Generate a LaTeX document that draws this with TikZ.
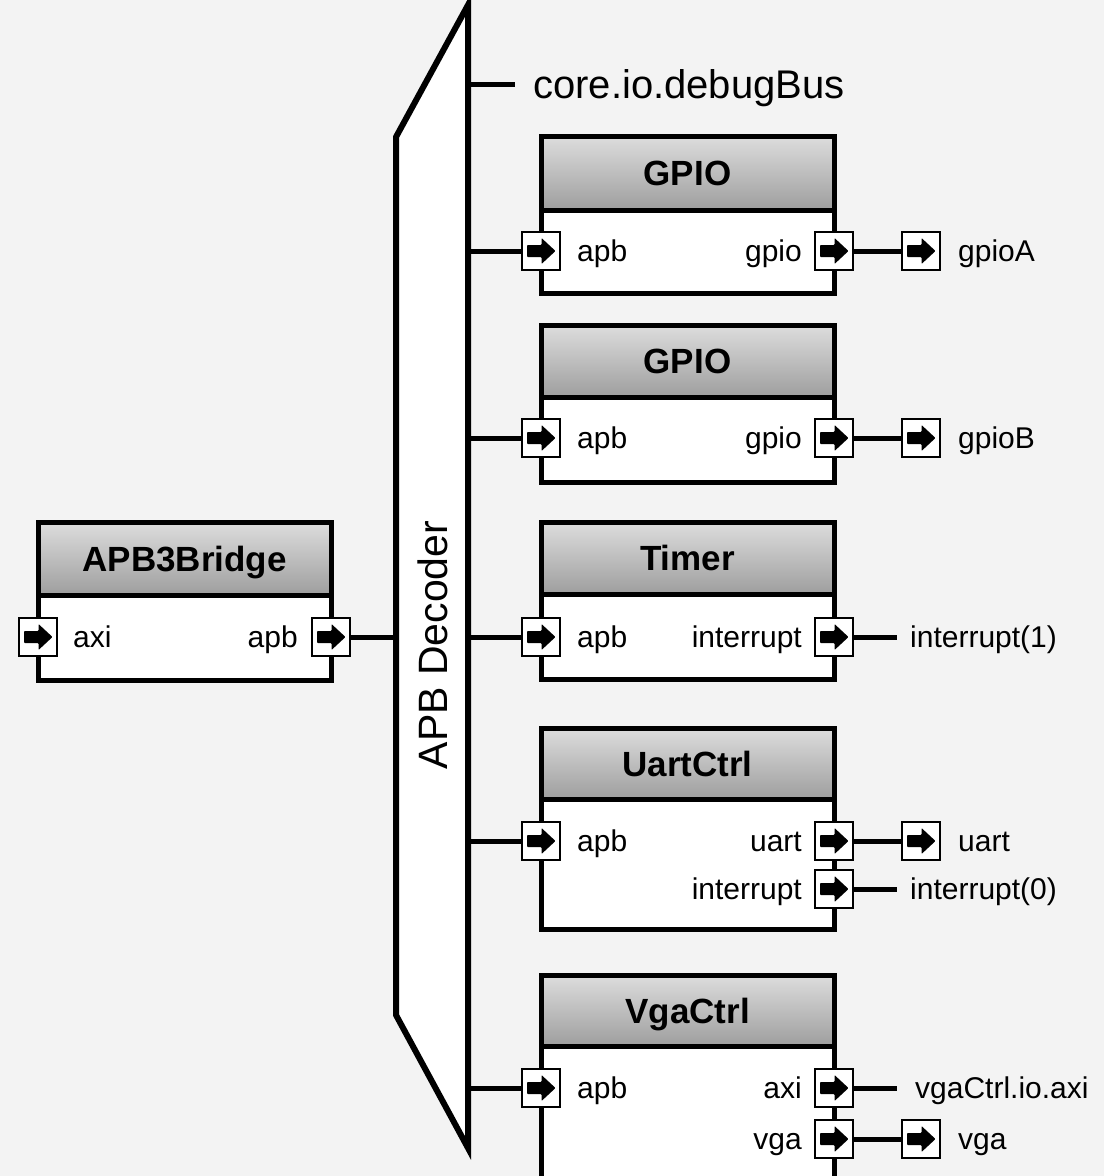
\documentclass[tikz,border=0pt]{standalone}
\usepackage{fontspec}
\setmainfont{Liberation Sans}
\usetikzlibrary{calc}
\definecolor{bgcol}{HTML}{F3F3F3}
\definecolor{hdtop}{HTML}{DDDDDD}
\definecolor{hdbot}{HTML}{9E9E9E}
\tikzset{
  bodybox/.style={draw=black, line width=5pt, fill=white, inner sep=0pt, outer sep=0pt, minimum width=293pt, anchor=north west},
  hdrbox/.style={draw=black, line width=5pt, top color=hdtop, bottom color=hdbot, inner sep=0pt, outer sep=0pt, minimum width=293pt, anchor=north west},
  ttl/.style={font=\fontsize{35}{42}\selectfont\bfseries, inner sep=0pt, anchor=base, yshift=-12.5pt},
  plbl/.style={font=\fontsize{30}{36}\selectfont, inner sep=0pt, yshift=-10.7pt},
  plw/.style={plbl, anchor=base west},
  ple/.style={plbl, anchor=base east},
  port/.style={draw=black, line width=2.7pt, fill=white, minimum size=38pt, inner sep=0pt, outer sep=0pt,
    path picture={\fill[black, draw=none, rounded corners=0.8pt] ([xshift=-14pt,yshift=-6pt]path picture bounding box.center)
      -- ++(14.5pt,0pt) -- ++(0pt,-7pt) -- ++(14pt,13pt) -- ++(-14pt,13pt) -- ++(0pt,-7pt) -- ++(-14.5pt,0pt) -- cycle;}},
  wire/.style={draw=black, line width=5pt},
}
\newcommand\cmpbox[6]{%
  \node[bodybox, minimum height={(#5-#3)*1pt}] (#1) at (#2,#3) {};
  \node[hdrbox, minimum height={(#4-#3)*1pt}] (#1h) at (#2,#3) {};
  \node[ttl] (#1t) at (#1h.center) {#6};
}
\begin{document}
\begin{tikzpicture}[x=1pt,y=-1pt]
\fill[bgcol] (0,0) rectangle (1104,1176);
\useasboundingbox (0,0) rectangle (1104,1176);
\clip (0,0) rectangle (1104,1176);

% APB decoder
\coordinate (dtop) at (468,5);
\coordinate (dbot) at (468,1148);
\coordinate (dbl) at (396,1015);
\coordinate (dtl) at (396,137);
\draw[line width=6pt, fill=white, line join=miter] (dtop) -- (dbot) -- (dbl) -- (dtl) -- cycle;
\node[font=\fontsize{41}{48}\selectfont, inner sep=0pt, rotate=90, anchor=base] (declbl) at (447,645) {APB Decoder};

% debug bus
\coordinate (dbgA) at (468,84);
\coordinate (dbgB) at (515,84);
\draw[wire] (dbgA) -- (dbgB);
\node[font=\fontsize{40}{48}\selectfont, inner sep=0pt, anchor=base west, yshift=-14pt] (dbglbl) at (533,84) {core.io.debugBus};

% boxes
\cmpbox{brg}{38}{522}{595}{680}{APB3Bridge}
\cmpbox{ga}{541}{136}{210}{293}{GPIO}
\cmpbox{gb}{541}{325}{397}{482}{GPIO}
\cmpbox{tm}{541}{522}{594}{679}{Timer}
\cmpbox{ua}{541}{728}{799}{929}{UartCtrl}
\cmpbox{vg}{541}{975}{1046}{1210}{VgaCtrl}

% bridge ports
\node[port] (brgaxi) at (38,637) {};
\node[port] (brgapb) at (331,637) {};
\node[plw] (brgaxil) at (73,637) {axi};
\node[ple] (brgapbl) at (298,637) {apb};
\coordinate (decin) at (396,637);
\draw[wire] (brgapb.east) -- (decin);

% GPIO A
\node[port] (gaapb) at (541,251) {};
\node[port] (gagpio) at (834,251) {};
\node[port] (gpioA) at (921,251) {};
\node[plw] (gaapbl) at (577,251) {apb};
\node[ple] (gagpiol) at (802,251) {gpio};
\node[plw] (gpioAl) at (958,251) {gpioA};
\coordinate (dga) at (468,251);
\draw[wire] (dga) -- (gaapb.west);
\draw[wire] (gagpio.east) -- (gpioA.west);

% GPIO B
\node[port] (gbapb) at (541,438) {};
\node[port] (gbgpio) at (834,438) {};
\node[port] (gpioB) at (921,438) {};
\node[plw] (gbapbl) at (577,438) {apb};
\node[ple] (gbgpiol) at (802,438) {gpio};
\node[plw] (gpioBl) at (958,438) {gpioB};
\coordinate (dgb) at (468,438);
\draw[wire] (dgb) -- (gbapb.west);
\draw[wire] (gbgpio.east) -- (gpioB.west);

% Timer
\node[port] (tmapb) at (541,637) {};
\node[port] (tmint) at (834,637) {};
\node[plw] (tmapbl) at (577,637) {apb};
\node[ple] (tmintl) at (802,637) {interrupt};
\coordinate (tmend) at (897,637);
\node[plw] (int1l) at (910,637) {interrupt(1)};
\coordinate (dtm) at (468,637);
\draw[wire] (dtm) -- (tmapb.west);
\draw[wire] (tmint.east) -- (tmend);

% UartCtrl
\node[port] (uaapb) at (541,841) {};
\node[port] (uauart) at (834,841) {};
\node[port] (uaint) at (834,889) {};
\node[port] (uart) at (921,841) {};
\node[plw] (uaapbl) at (577,841) {apb};
\node[ple] (uauartl) at (802,841) {uart};
\node[ple] (uaintl) at (802,889) {interrupt};
\node[plw] (uartl) at (958,841) {uart};
\coordinate (uaend) at (897,889);
\node[plw] (int0l) at (910,889) {interrupt(0)};
\coordinate (dua) at (468,841);
\draw[wire] (dua) -- (uaapb.west);
\draw[wire] (uauart.east) -- (uart.west);
\draw[wire] (uaint.east) -- (uaend);

% VgaCtrl
\node[port] (vgapb) at (541,1088) {};
\node[port] (vgaxi) at (834,1088) {};
\node[port] (vgvga) at (834,1139) {};
\node[port] (vga) at (921,1139) {};
\node[plw] (vgapbl) at (577,1088) {apb};
\node[ple] (vgaxil) at (802,1088) {axi};
\node[ple] (vgvgal) at (802,1139) {vga};
\coordinate (vgend) at (897,1088);
\node[plw] (vgaxiext) at (915,1088) {vgaCtrl.io.axi};
\node[plw] (vgal) at (958,1139) {vga};
\coordinate (dvg) at (468,1088);
\draw[wire] (dvg) -- (vgapb.west);
\draw[wire] (vgaxi.east) -- (vgend);
\draw[wire] (vgvga.east) -- (vga.west);
\end{tikzpicture}
\end{document}
